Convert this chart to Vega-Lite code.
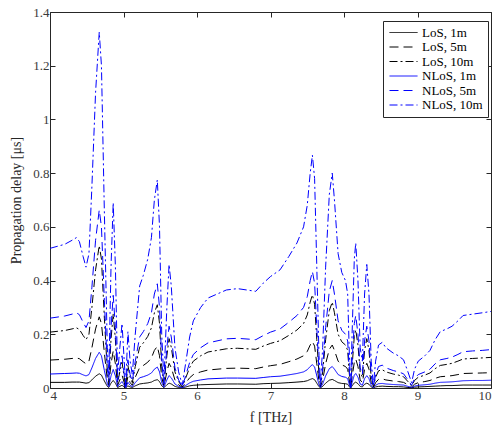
{
"$schema":"https://vega.github.io/schema/vega-lite/v6.json",
"width":441,"height":376,
"autosize":"none",
"padding":{"left":50,"top":12,"right":7,"bottom":38},
"background":"white",
"config":{"view":{"stroke":"#262626","strokeWidth":1},"font":"Liberation Serif",
"axis":{"labelFont":"Liberation Serif","titleFont":"Liberation Serif","labelFontSize":13,"titleFontSize":14,"labelColor":"#3a3a3a","titleColor":"#262626","titleFontWeight":"normal","domainColor":"#262626","tickColor":"#262626","grid":false,"tickSize":-5}},
"data":{"values":[
{"s":"L1","f":4,"v":0.021},{"s":"L1","f":4.2,"v":0.021},{"s":"L1","f":4.3,"v":0.022},{"s":"L1","f":4.36,"v":0.022},{"s":"L1","f":4.4,"v":0.022},{"s":"L1","f":4.45,"v":0.02},{"s":"L1","f":4.49,"v":0.018},{"s":"L1","f":4.53,"v":0.02},{"s":"L1","f":4.57,"v":0.03},{"s":"L1","f":4.62,"v":0.044},{"s":"L1","f":4.67,"v":0.053},{"s":"L1","f":4.7,"v":0.048},{"s":"L1","f":4.74,"v":0.026},{"s":"L1","f":4.78,"v":0.006},{"s":"L1","f":4.8,"v":0.002},{"s":"L1","f":4.83,"v":0.018},{"s":"L1","f":4.86,"v":0.028},{"s":"L1","f":4.89,"v":0.018},{"s":"L1","f":4.92,"v":0.002},{"s":"L1","f":4.95,"v":0.006},{"s":"L1","f":4.98,"v":0.01},{"s":"L1","f":5.01,"v":0.004},{"s":"L1","f":5.03,"v":0.0004},{"s":"L1","f":5.06,"v":0.008},{"s":"L1","f":5.09,"v":0.004},{"s":"L1","f":5.12,"v":0.002},{"s":"L1","f":5.16,"v":0.008},{"s":"L1","f":5.22,"v":0.015},{"s":"L1","f":5.27,"v":0.017},{"s":"L1","f":5.33,"v":0.019},{"s":"L1","f":5.38,"v":0.022},{"s":"L1","f":5.42,"v":0.028},{"s":"L1","f":5.46,"v":0.031},{"s":"L1","f":5.49,"v":0.024},{"s":"L1","f":5.52,"v":0.008},{"s":"L1","f":5.55,"v":0.001},{"s":"L1","f":5.59,"v":0.012},{"s":"L1","f":5.62,"v":0.018},{"s":"L1","f":5.65,"v":0.015},{"s":"L1","f":5.7,"v":0.006},{"s":"L1","f":5.75,"v":0.002},{"s":"L1","f":5.8,"v":0.0004},{"s":"L1","f":5.85,"v":0.004},{"s":"L1","f":5.9,"v":0.008},{"s":"L1","f":5.95,"v":0.01},{"s":"L1","f":6.05,"v":0.012},{"s":"L1","f":6.15,"v":0.013},{"s":"L1","f":6.4,"v":0.015},{"s":"L1","f":6.55,"v":0.015},{"s":"L1","f":6.8,"v":0.014},{"s":"L1","f":6.9,"v":0.016},{"s":"L1","f":7,"v":0.017},{"s":"L1","f":7.13,"v":0.018},{"s":"L1","f":7.25,"v":0.02},{"s":"L1","f":7.36,"v":0.022},{"s":"L1","f":7.45,"v":0.024},{"s":"L1","f":7.5,"v":0.027},{"s":"L1","f":7.54,"v":0.032},{"s":"L1","f":7.57,"v":0.035},{"s":"L1","f":7.6,"v":0.031},{"s":"L1","f":7.63,"v":0.018},{"s":"L1","f":7.66,"v":0.005},{"s":"L1","f":7.68,"v":0.001},{"s":"L1","f":7.71,"v":0.006},{"s":"L1","f":7.75,"v":0.018},{"s":"L1","f":7.8,"v":0.029},{"s":"L1","f":7.84,"v":0.032},{"s":"L1","f":7.87,"v":0.028},{"s":"L1","f":7.92,"v":0.02},{"s":"L1","f":7.97,"v":0.017},{"s":"L1","f":8.02,"v":0.016},{"s":"L1","f":8.05,"v":0.014},{"s":"L1","f":8.07,"v":0.006},{"s":"L1","f":8.09,"v":0},{"s":"L1","f":8.11,"v":0.008},{"s":"L1","f":8.14,"v":0.019},{"s":"L1","f":8.16,"v":0.022},{"s":"L1","f":8.19,"v":0.016},{"s":"L1","f":8.22,"v":0.006},{"s":"L1","f":8.25,"v":0.004},{"s":"L1","f":8.28,"v":0.014},{"s":"L1","f":8.31,"v":0.018},{"s":"L1","f":8.34,"v":0.014},{"s":"L1","f":8.37,"v":0.004},{"s":"L1","f":8.4,"v":0.0004},{"s":"L1","f":8.43,"v":0.004},{"s":"L1","f":8.47,"v":0.006},{"s":"L1","f":8.52,"v":0.007},{"s":"L1","f":8.57,"v":0.006},{"s":"L1","f":8.67,"v":0.005},{"s":"L1","f":8.74,"v":0.005},{"s":"L1","f":8.81,"v":0.004},{"s":"L1","f":8.87,"v":0.002},{"s":"L1","f":8.92,"v":0.001},{"s":"L1","f":8.96,"v":0.003},{"s":"L1","f":9.01,"v":0.004},{"s":"L1","f":9.1,"v":0.005},{"s":"L1","f":9.17,"v":0.006},{"s":"L1","f":9.24,"v":0.007},{"s":"L1","f":9.31,"v":0.008},{"s":"L1","f":9.4,"v":0.009},{"s":"L1","f":9.47,"v":0.009},{"s":"L1","f":9.55,"v":0.01},{"s":"L1","f":9.62,"v":0.011},{"s":"L1","f":9.75,"v":0.011},{"s":"L1","f":9.88,"v":0.011},{"s":"L1","f":10,"v":0.011},
{"s":"L5","f":4,"v":0.104},{"s":"L5","f":4.2,"v":0.107},{"s":"L5","f":4.3,"v":0.11},{"s":"L5","f":4.36,"v":0.112},{"s":"L5","f":4.4,"v":0.109},{"s":"L5","f":4.45,"v":0.098},{"s":"L5","f":4.49,"v":0.09},{"s":"L5","f":4.53,"v":0.1},{"s":"L5","f":4.57,"v":0.15},{"s":"L5","f":4.62,"v":0.22},{"s":"L5","f":4.67,"v":0.265},{"s":"L5","f":4.7,"v":0.24},{"s":"L5","f":4.74,"v":0.13},{"s":"L5","f":4.78,"v":0.03},{"s":"L5","f":4.8,"v":0.01},{"s":"L5","f":4.83,"v":0.09},{"s":"L5","f":4.86,"v":0.138},{"s":"L5","f":4.89,"v":0.09},{"s":"L5","f":4.92,"v":0.01},{"s":"L5","f":4.95,"v":0.03},{"s":"L5","f":4.98,"v":0.048},{"s":"L5","f":5.01,"v":0.02},{"s":"L5","f":5.03,"v":0.002},{"s":"L5","f":5.06,"v":0.042},{"s":"L5","f":5.09,"v":0.02},{"s":"L5","f":5.12,"v":0.01},{"s":"L5","f":5.16,"v":0.04},{"s":"L5","f":5.22,"v":0.076},{"s":"L5","f":5.27,"v":0.084},{"s":"L5","f":5.33,"v":0.096},{"s":"L5","f":5.38,"v":0.112},{"s":"L5","f":5.42,"v":0.14},{"s":"L5","f":5.46,"v":0.155},{"s":"L5","f":5.49,"v":0.12},{"s":"L5","f":5.52,"v":0.04},{"s":"L5","f":5.55,"v":0.006},{"s":"L5","f":5.59,"v":0.06},{"s":"L5","f":5.62,"v":0.092},{"s":"L5","f":5.65,"v":0.076},{"s":"L5","f":5.7,"v":0.03},{"s":"L5","f":5.75,"v":0.012},{"s":"L5","f":5.8,"v":0.002},{"s":"L5","f":5.85,"v":0.02},{"s":"L5","f":5.9,"v":0.038},{"s":"L5","f":5.95,"v":0.05},{"s":"L5","f":6.05,"v":0.06},{"s":"L5","f":6.15,"v":0.067},{"s":"L5","f":6.4,"v":0.073},{"s":"L5","f":6.55,"v":0.074},{"s":"L5","f":6.8,"v":0.072},{"s":"L5","f":6.9,"v":0.078},{"s":"L5","f":7,"v":0.083},{"s":"L5","f":7.13,"v":0.088},{"s":"L5","f":7.25,"v":0.098},{"s":"L5","f":7.36,"v":0.108},{"s":"L5","f":7.45,"v":0.12},{"s":"L5","f":7.5,"v":0.136},{"s":"L5","f":7.54,"v":0.16},{"s":"L5","f":7.57,"v":0.173},{"s":"L5","f":7.6,"v":0.156},{"s":"L5","f":7.63,"v":0.09},{"s":"L5","f":7.66,"v":0.024},{"s":"L5","f":7.68,"v":0.004},{"s":"L5","f":7.71,"v":0.03},{"s":"L5","f":7.75,"v":0.09},{"s":"L5","f":7.8,"v":0.144},{"s":"L5","f":7.84,"v":0.16},{"s":"L5","f":7.87,"v":0.14},{"s":"L5","f":7.92,"v":0.1},{"s":"L5","f":7.97,"v":0.086},{"s":"L5","f":8.02,"v":0.08},{"s":"L5","f":8.05,"v":0.07},{"s":"L5","f":8.07,"v":0.03},{"s":"L5","f":8.09,"v":0},{"s":"L5","f":8.11,"v":0.04},{"s":"L5","f":8.14,"v":0.096},{"s":"L5","f":8.16,"v":0.108},{"s":"L5","f":8.19,"v":0.08},{"s":"L5","f":8.22,"v":0.03},{"s":"L5","f":8.25,"v":0.02},{"s":"L5","f":8.28,"v":0.07},{"s":"L5","f":8.31,"v":0.092},{"s":"L5","f":8.34,"v":0.07},{"s":"L5","f":8.37,"v":0.02},{"s":"L5","f":8.4,"v":0.002},{"s":"L5","f":8.43,"v":0.02},{"s":"L5","f":8.47,"v":0.032},{"s":"L5","f":8.52,"v":0.034},{"s":"L5","f":8.57,"v":0.03},{"s":"L5","f":8.67,"v":0.026},{"s":"L5","f":8.74,"v":0.024},{"s":"L5","f":8.81,"v":0.021},{"s":"L5","f":8.87,"v":0.012},{"s":"L5","f":8.92,"v":0.004},{"s":"L5","f":8.96,"v":0.014},{"s":"L5","f":9.01,"v":0.02},{"s":"L5","f":9.1,"v":0.024},{"s":"L5","f":9.17,"v":0.028},{"s":"L5","f":9.24,"v":0.036},{"s":"L5","f":9.31,"v":0.042},{"s":"L5","f":9.4,"v":0.044},{"s":"L5","f":9.47,"v":0.046},{"s":"L5","f":9.55,"v":0.05},{"s":"L5","f":9.62,"v":0.054},{"s":"L5","f":9.75,"v":0.055},{"s":"L5","f":9.88,"v":0.056},{"s":"L5","f":10,"v":0.057},
{"s":"L10","f":4,"v":0.208},{"s":"L10","f":4.2,"v":0.214},{"s":"L10","f":4.3,"v":0.22},{"s":"L10","f":4.36,"v":0.224},{"s":"L10","f":4.4,"v":0.218},{"s":"L10","f":4.45,"v":0.196},{"s":"L10","f":4.49,"v":0.18},{"s":"L10","f":4.53,"v":0.2},{"s":"L10","f":4.57,"v":0.3},{"s":"L10","f":4.62,"v":0.44},{"s":"L10","f":4.67,"v":0.53},{"s":"L10","f":4.7,"v":0.48},{"s":"L10","f":4.74,"v":0.26},{"s":"L10","f":4.78,"v":0.06},{"s":"L10","f":4.8,"v":0.02},{"s":"L10","f":4.83,"v":0.18},{"s":"L10","f":4.86,"v":0.276},{"s":"L10","f":4.89,"v":0.18},{"s":"L10","f":4.92,"v":0.02},{"s":"L10","f":4.95,"v":0.06},{"s":"L10","f":4.98,"v":0.096},{"s":"L10","f":5.01,"v":0.04},{"s":"L10","f":5.03,"v":0.004},{"s":"L10","f":5.06,"v":0.084},{"s":"L10","f":5.09,"v":0.04},{"s":"L10","f":5.12,"v":0.02},{"s":"L10","f":5.16,"v":0.08},{"s":"L10","f":5.22,"v":0.152},{"s":"L10","f":5.27,"v":0.168},{"s":"L10","f":5.33,"v":0.192},{"s":"L10","f":5.38,"v":0.224},{"s":"L10","f":5.42,"v":0.28},{"s":"L10","f":5.46,"v":0.31},{"s":"L10","f":5.49,"v":0.24},{"s":"L10","f":5.52,"v":0.08},{"s":"L10","f":5.55,"v":0.012},{"s":"L10","f":5.59,"v":0.12},{"s":"L10","f":5.62,"v":0.184},{"s":"L10","f":5.65,"v":0.152},{"s":"L10","f":5.7,"v":0.06},{"s":"L10","f":5.75,"v":0.024},{"s":"L10","f":5.8,"v":0.004},{"s":"L10","f":5.85,"v":0.04},{"s":"L10","f":5.9,"v":0.076},{"s":"L10","f":5.95,"v":0.1},{"s":"L10","f":6.05,"v":0.12},{"s":"L10","f":6.15,"v":0.134},{"s":"L10","f":6.4,"v":0.146},{"s":"L10","f":6.55,"v":0.148},{"s":"L10","f":6.8,"v":0.144},{"s":"L10","f":6.9,"v":0.156},{"s":"L10","f":7,"v":0.166},{"s":"L10","f":7.13,"v":0.176},{"s":"L10","f":7.25,"v":0.196},{"s":"L10","f":7.36,"v":0.216},{"s":"L10","f":7.45,"v":0.24},{"s":"L10","f":7.5,"v":0.272},{"s":"L10","f":7.54,"v":0.32},{"s":"L10","f":7.57,"v":0.347},{"s":"L10","f":7.6,"v":0.312},{"s":"L10","f":7.63,"v":0.18},{"s":"L10","f":7.66,"v":0.048},{"s":"L10","f":7.68,"v":0.008},{"s":"L10","f":7.71,"v":0.06},{"s":"L10","f":7.75,"v":0.18},{"s":"L10","f":7.8,"v":0.288},{"s":"L10","f":7.84,"v":0.32},{"s":"L10","f":7.87,"v":0.28},{"s":"L10","f":7.92,"v":0.2},{"s":"L10","f":7.97,"v":0.172},{"s":"L10","f":8.02,"v":0.16},{"s":"L10","f":8.05,"v":0.14},{"s":"L10","f":8.07,"v":0.06},{"s":"L10","f":8.09,"v":0},{"s":"L10","f":8.11,"v":0.08},{"s":"L10","f":8.14,"v":0.192},{"s":"L10","f":8.16,"v":0.216},{"s":"L10","f":8.19,"v":0.16},{"s":"L10","f":8.22,"v":0.06},{"s":"L10","f":8.25,"v":0.04},{"s":"L10","f":8.28,"v":0.14},{"s":"L10","f":8.31,"v":0.184},{"s":"L10","f":8.34,"v":0.14},{"s":"L10","f":8.37,"v":0.04},{"s":"L10","f":8.4,"v":0.004},{"s":"L10","f":8.43,"v":0.04},{"s":"L10","f":8.47,"v":0.064},{"s":"L10","f":8.52,"v":0.068},{"s":"L10","f":8.57,"v":0.06},{"s":"L10","f":8.67,"v":0.052},{"s":"L10","f":8.74,"v":0.048},{"s":"L10","f":8.81,"v":0.042},{"s":"L10","f":8.87,"v":0.024},{"s":"L10","f":8.92,"v":0.008},{"s":"L10","f":8.96,"v":0.028},{"s":"L10","f":9.01,"v":0.04},{"s":"L10","f":9.1,"v":0.048},{"s":"L10","f":9.17,"v":0.056},{"s":"L10","f":9.24,"v":0.072},{"s":"L10","f":9.31,"v":0.084},{"s":"L10","f":9.4,"v":0.088},{"s":"L10","f":9.47,"v":0.092},{"s":"L10","f":9.55,"v":0.1},{"s":"L10","f":9.62,"v":0.108},{"s":"L10","f":9.75,"v":0.11},{"s":"L10","f":9.88,"v":0.112},{"s":"L10","f":10,"v":0.114},
{"s":"N1","f":4,"v":0.052},{"s":"N1","f":4.2,"v":0.054},{"s":"N1","f":4.3,"v":0.055},{"s":"N1","f":4.36,"v":0.056},{"s":"N1","f":4.4,"v":0.055},{"s":"N1","f":4.45,"v":0.049},{"s":"N1","f":4.49,"v":0.045},{"s":"N1","f":4.53,"v":0.05},{"s":"N1","f":4.57,"v":0.075},{"s":"N1","f":4.62,"v":0.11},{"s":"N1","f":4.67,"v":0.133},{"s":"N1","f":4.7,"v":0.12},{"s":"N1","f":4.74,"v":0.065},{"s":"N1","f":4.78,"v":0.015},{"s":"N1","f":4.8,"v":0.005},{"s":"N1","f":4.83,"v":0.045},{"s":"N1","f":4.86,"v":0.069},{"s":"N1","f":4.89,"v":0.045},{"s":"N1","f":4.92,"v":0.005},{"s":"N1","f":4.95,"v":0.015},{"s":"N1","f":4.98,"v":0.024},{"s":"N1","f":5.01,"v":0.01},{"s":"N1","f":5.03,"v":0.001},{"s":"N1","f":5.06,"v":0.021},{"s":"N1","f":5.09,"v":0.01},{"s":"N1","f":5.12,"v":0.005},{"s":"N1","f":5.16,"v":0.02},{"s":"N1","f":5.22,"v":0.038},{"s":"N1","f":5.27,"v":0.042},{"s":"N1","f":5.33,"v":0.048},{"s":"N1","f":5.38,"v":0.056},{"s":"N1","f":5.42,"v":0.07},{"s":"N1","f":5.46,"v":0.078},{"s":"N1","f":5.49,"v":0.06},{"s":"N1","f":5.52,"v":0.02},{"s":"N1","f":5.55,"v":0.003},{"s":"N1","f":5.59,"v":0.03},{"s":"N1","f":5.62,"v":0.046},{"s":"N1","f":5.65,"v":0.038},{"s":"N1","f":5.7,"v":0.015},{"s":"N1","f":5.75,"v":0.006},{"s":"N1","f":5.8,"v":0.001},{"s":"N1","f":5.85,"v":0.01},{"s":"N1","f":5.9,"v":0.019},{"s":"N1","f":5.95,"v":0.025},{"s":"N1","f":6.05,"v":0.03},{"s":"N1","f":6.15,"v":0.034},{"s":"N1","f":6.4,"v":0.037},{"s":"N1","f":6.55,"v":0.037},{"s":"N1","f":6.8,"v":0.036},{"s":"N1","f":6.9,"v":0.039},{"s":"N1","f":7,"v":0.042},{"s":"N1","f":7.13,"v":0.044},{"s":"N1","f":7.25,"v":0.049},{"s":"N1","f":7.36,"v":0.054},{"s":"N1","f":7.45,"v":0.06},{"s":"N1","f":7.5,"v":0.068},{"s":"N1","f":7.54,"v":0.08},{"s":"N1","f":7.57,"v":0.087},{"s":"N1","f":7.6,"v":0.078},{"s":"N1","f":7.63,"v":0.045},{"s":"N1","f":7.66,"v":0.012},{"s":"N1","f":7.68,"v":0.002},{"s":"N1","f":7.71,"v":0.015},{"s":"N1","f":7.75,"v":0.045},{"s":"N1","f":7.8,"v":0.072},{"s":"N1","f":7.84,"v":0.08},{"s":"N1","f":7.87,"v":0.07},{"s":"N1","f":7.92,"v":0.05},{"s":"N1","f":7.97,"v":0.043},{"s":"N1","f":8.02,"v":0.04},{"s":"N1","f":8.05,"v":0.035},{"s":"N1","f":8.07,"v":0.015},{"s":"N1","f":8.09,"v":0},{"s":"N1","f":8.11,"v":0.02},{"s":"N1","f":8.14,"v":0.048},{"s":"N1","f":8.16,"v":0.054},{"s":"N1","f":8.19,"v":0.04},{"s":"N1","f":8.22,"v":0.015},{"s":"N1","f":8.25,"v":0.01},{"s":"N1","f":8.28,"v":0.035},{"s":"N1","f":8.31,"v":0.046},{"s":"N1","f":8.34,"v":0.035},{"s":"N1","f":8.37,"v":0.01},{"s":"N1","f":8.4,"v":0.001},{"s":"N1","f":8.43,"v":0.01},{"s":"N1","f":8.47,"v":0.016},{"s":"N1","f":8.52,"v":0.017},{"s":"N1","f":8.57,"v":0.015},{"s":"N1","f":8.67,"v":0.013},{"s":"N1","f":8.74,"v":0.012},{"s":"N1","f":8.81,"v":0.011},{"s":"N1","f":8.87,"v":0.006},{"s":"N1","f":8.92,"v":0.002},{"s":"N1","f":8.96,"v":0.007},{"s":"N1","f":9.01,"v":0.01},{"s":"N1","f":9.1,"v":0.012},{"s":"N1","f":9.17,"v":0.014},{"s":"N1","f":9.24,"v":0.018},{"s":"N1","f":9.31,"v":0.021},{"s":"N1","f":9.4,"v":0.022},{"s":"N1","f":9.47,"v":0.023},{"s":"N1","f":9.55,"v":0.025},{"s":"N1","f":9.62,"v":0.027},{"s":"N1","f":9.75,"v":0.028},{"s":"N1","f":9.88,"v":0.028},{"s":"N1","f":10,"v":0.029},
{"s":"N5","f":4,"v":0.26},{"s":"N5","f":4.2,"v":0.268},{"s":"N5","f":4.3,"v":0.275},{"s":"N5","f":4.36,"v":0.28},{"s":"N5","f":4.4,"v":0.273},{"s":"N5","f":4.45,"v":0.245},{"s":"N5","f":4.49,"v":0.225},{"s":"N5","f":4.53,"v":0.25},{"s":"N5","f":4.57,"v":0.375},{"s":"N5","f":4.62,"v":0.55},{"s":"N5","f":4.67,"v":0.663},{"s":"N5","f":4.7,"v":0.6},{"s":"N5","f":4.74,"v":0.325},{"s":"N5","f":4.78,"v":0.075},{"s":"N5","f":4.8,"v":0.025},{"s":"N5","f":4.83,"v":0.225},{"s":"N5","f":4.86,"v":0.345},{"s":"N5","f":4.89,"v":0.225},{"s":"N5","f":4.92,"v":0.025},{"s":"N5","f":4.95,"v":0.075},{"s":"N5","f":4.98,"v":0.12},{"s":"N5","f":5.01,"v":0.05},{"s":"N5","f":5.03,"v":0.005},{"s":"N5","f":5.06,"v":0.105},{"s":"N5","f":5.09,"v":0.05},{"s":"N5","f":5.12,"v":0.025},{"s":"N5","f":5.16,"v":0.1},{"s":"N5","f":5.22,"v":0.19},{"s":"N5","f":5.27,"v":0.21},{"s":"N5","f":5.33,"v":0.24},{"s":"N5","f":5.38,"v":0.28},{"s":"N5","f":5.42,"v":0.35},{"s":"N5","f":5.46,"v":0.388},{"s":"N5","f":5.49,"v":0.3},{"s":"N5","f":5.52,"v":0.1},{"s":"N5","f":5.55,"v":0.015},{"s":"N5","f":5.59,"v":0.15},{"s":"N5","f":5.62,"v":0.23},{"s":"N5","f":5.65,"v":0.19},{"s":"N5","f":5.7,"v":0.075},{"s":"N5","f":5.75,"v":0.03},{"s":"N5","f":5.8,"v":0.005},{"s":"N5","f":5.85,"v":0.05},{"s":"N5","f":5.9,"v":0.095},{"s":"N5","f":5.95,"v":0.125},{"s":"N5","f":6.05,"v":0.15},{"s":"N5","f":6.15,"v":0.168},{"s":"N5","f":6.4,"v":0.183},{"s":"N5","f":6.55,"v":0.185},{"s":"N5","f":6.8,"v":0.18},{"s":"N5","f":6.9,"v":0.195},{"s":"N5","f":7,"v":0.208},{"s":"N5","f":7.13,"v":0.22},{"s":"N5","f":7.25,"v":0.245},{"s":"N5","f":7.36,"v":0.27},{"s":"N5","f":7.45,"v":0.3},{"s":"N5","f":7.5,"v":0.34},{"s":"N5","f":7.54,"v":0.4},{"s":"N5","f":7.57,"v":0.434},{"s":"N5","f":7.6,"v":0.39},{"s":"N5","f":7.63,"v":0.225},{"s":"N5","f":7.66,"v":0.06},{"s":"N5","f":7.68,"v":0.01},{"s":"N5","f":7.71,"v":0.075},{"s":"N5","f":7.75,"v":0.225},{"s":"N5","f":7.8,"v":0.36},{"s":"N5","f":7.84,"v":0.4},{"s":"N5","f":7.87,"v":0.35},{"s":"N5","f":7.92,"v":0.25},{"s":"N5","f":7.97,"v":0.215},{"s":"N5","f":8.02,"v":0.2},{"s":"N5","f":8.05,"v":0.175},{"s":"N5","f":8.07,"v":0.075},{"s":"N5","f":8.09,"v":0},{"s":"N5","f":8.11,"v":0.1},{"s":"N5","f":8.14,"v":0.24},{"s":"N5","f":8.16,"v":0.27},{"s":"N5","f":8.19,"v":0.2},{"s":"N5","f":8.22,"v":0.075},{"s":"N5","f":8.25,"v":0.05},{"s":"N5","f":8.28,"v":0.175},{"s":"N5","f":8.31,"v":0.23},{"s":"N5","f":8.34,"v":0.175},{"s":"N5","f":8.37,"v":0.05},{"s":"N5","f":8.4,"v":0.005},{"s":"N5","f":8.43,"v":0.05},{"s":"N5","f":8.47,"v":0.08},{"s":"N5","f":8.52,"v":0.085},{"s":"N5","f":8.57,"v":0.075},{"s":"N5","f":8.67,"v":0.065},{"s":"N5","f":8.74,"v":0.06},{"s":"N5","f":8.81,"v":0.053},{"s":"N5","f":8.87,"v":0.03},{"s":"N5","f":8.92,"v":0.01},{"s":"N5","f":8.96,"v":0.035},{"s":"N5","f":9.01,"v":0.05},{"s":"N5","f":9.1,"v":0.06},{"s":"N5","f":9.17,"v":0.07},{"s":"N5","f":9.24,"v":0.09},{"s":"N5","f":9.31,"v":0.105},{"s":"N5","f":9.4,"v":0.11},{"s":"N5","f":9.47,"v":0.115},{"s":"N5","f":9.55,"v":0.125},{"s":"N5","f":9.62,"v":0.135},{"s":"N5","f":9.75,"v":0.138},{"s":"N5","f":9.88,"v":0.14},{"s":"N5","f":10,"v":0.143},
{"s":"N10","f":4,"v":0.52},{"s":"N10","f":4.2,"v":0.535},{"s":"N10","f":4.3,"v":0.55},{"s":"N10","f":4.36,"v":0.56},{"s":"N10","f":4.4,"v":0.545},{"s":"N10","f":4.45,"v":0.49},{"s":"N10","f":4.49,"v":0.45},{"s":"N10","f":4.53,"v":0.5},{"s":"N10","f":4.57,"v":0.75},{"s":"N10","f":4.62,"v":1.1},{"s":"N10","f":4.67,"v":1.325},{"s":"N10","f":4.7,"v":1.2},{"s":"N10","f":4.74,"v":0.65},{"s":"N10","f":4.78,"v":0.15},{"s":"N10","f":4.8,"v":0.05},{"s":"N10","f":4.83,"v":0.45},{"s":"N10","f":4.86,"v":0.69},{"s":"N10","f":4.89,"v":0.45},{"s":"N10","f":4.92,"v":0.05},{"s":"N10","f":4.95,"v":0.15},{"s":"N10","f":4.98,"v":0.24},{"s":"N10","f":5.01,"v":0.1},{"s":"N10","f":5.03,"v":0.01},{"s":"N10","f":5.06,"v":0.21},{"s":"N10","f":5.09,"v":0.1},{"s":"N10","f":5.12,"v":0.05},{"s":"N10","f":5.16,"v":0.2},{"s":"N10","f":5.22,"v":0.38},{"s":"N10","f":5.27,"v":0.42},{"s":"N10","f":5.33,"v":0.48},{"s":"N10","f":5.38,"v":0.56},{"s":"N10","f":5.42,"v":0.7},{"s":"N10","f":5.46,"v":0.775},{"s":"N10","f":5.49,"v":0.6},{"s":"N10","f":5.52,"v":0.2},{"s":"N10","f":5.55,"v":0.03},{"s":"N10","f":5.59,"v":0.3},{"s":"N10","f":5.62,"v":0.46},{"s":"N10","f":5.65,"v":0.38},{"s":"N10","f":5.7,"v":0.15},{"s":"N10","f":5.75,"v":0.06},{"s":"N10","f":5.8,"v":0.01},{"s":"N10","f":5.85,"v":0.1},{"s":"N10","f":5.9,"v":0.19},{"s":"N10","f":5.95,"v":0.25},{"s":"N10","f":6.05,"v":0.3},{"s":"N10","f":6.15,"v":0.335},{"s":"N10","f":6.4,"v":0.365},{"s":"N10","f":6.55,"v":0.37},{"s":"N10","f":6.8,"v":0.36},{"s":"N10","f":6.9,"v":0.39},{"s":"N10","f":7,"v":0.415},{"s":"N10","f":7.13,"v":0.44},{"s":"N10","f":7.25,"v":0.49},{"s":"N10","f":7.36,"v":0.54},{"s":"N10","f":7.45,"v":0.6},{"s":"N10","f":7.5,"v":0.68},{"s":"N10","f":7.54,"v":0.8},{"s":"N10","f":7.57,"v":0.867},{"s":"N10","f":7.6,"v":0.78},{"s":"N10","f":7.63,"v":0.45},{"s":"N10","f":7.66,"v":0.12},{"s":"N10","f":7.68,"v":0.02},{"s":"N10","f":7.71,"v":0.15},{"s":"N10","f":7.75,"v":0.45},{"s":"N10","f":7.8,"v":0.72},{"s":"N10","f":7.84,"v":0.8},{"s":"N10","f":7.87,"v":0.7},{"s":"N10","f":7.92,"v":0.5},{"s":"N10","f":7.97,"v":0.43},{"s":"N10","f":8.02,"v":0.4},{"s":"N10","f":8.05,"v":0.35},{"s":"N10","f":8.07,"v":0.15},{"s":"N10","f":8.09,"v":0},{"s":"N10","f":8.11,"v":0.2},{"s":"N10","f":8.14,"v":0.48},{"s":"N10","f":8.16,"v":0.54},{"s":"N10","f":8.19,"v":0.4},{"s":"N10","f":8.22,"v":0.15},{"s":"N10","f":8.25,"v":0.1},{"s":"N10","f":8.28,"v":0.35},{"s":"N10","f":8.31,"v":0.46},{"s":"N10","f":8.34,"v":0.35},{"s":"N10","f":8.37,"v":0.1},{"s":"N10","f":8.4,"v":0.01},{"s":"N10","f":8.43,"v":0.1},{"s":"N10","f":8.47,"v":0.16},{"s":"N10","f":8.52,"v":0.17},{"s":"N10","f":8.57,"v":0.15},{"s":"N10","f":8.67,"v":0.13},{"s":"N10","f":8.74,"v":0.12},{"s":"N10","f":8.81,"v":0.105},{"s":"N10","f":8.87,"v":0.06},{"s":"N10","f":8.92,"v":0.02},{"s":"N10","f":8.96,"v":0.07},{"s":"N10","f":9.01,"v":0.1},{"s":"N10","f":9.1,"v":0.12},{"s":"N10","f":9.17,"v":0.14},{"s":"N10","f":9.24,"v":0.18},{"s":"N10","f":9.31,"v":0.21},{"s":"N10","f":9.4,"v":0.22},{"s":"N10","f":9.47,"v":0.23},{"s":"N10","f":9.55,"v":0.25},{"s":"N10","f":9.62,"v":0.27},{"s":"N10","f":9.75,"v":0.275},{"s":"N10","f":9.88,"v":0.28},{"s":"N10","f":10,"v":0.285}
]},
"layer":[
{"mark":{"type":"line","strokeWidth":1,"clip":true},
"encoding":{
"x":{"field":"f","type":"quantitative","scale":{"domain":[4,10],"nice":false},"axis":{"orient":"bottom","values":[4,5,6,7,8,9,10],"labelPadding":6,"title":"f [THz]","titleY":33,"titleBaseline":"alphabetic","domain":false}},
"y":{"field":"v","type":"quantitative","scale":{"domain":[0,1.4],"nice":false},"axis":{"orient":"left","values":[0,0.2,0.4,0.6,0.8,1,1.2,1.4],"format":"~g","labelPadding":6,"title":"Propagation delay  [μs]","titleX":-34,"titleY":188,"titleAngle":-90,"titleAlign":"center","titleBaseline":"middle","domain":false}},
"color":{"field":"s","type":"nominal","scale":{"domain":["L1","L5","L10","N1","N5","N10"],"range":["#000000","#000000","#000000","#0000ff","#0000ff","#0000ff"]},
"legend":{"title":null,"orient":"none","legendX":333,"legendY":9,"strokeColor":"#262626","fillColor":"white","padding":5,"symbolType":"M-1,0H4.6","symbolSize":100,"symbolStrokeWidth":1,"labelFont":"Liberation Serif","labelFontSize":13,"labelColor":"#000000","rowPadding":0.5,"labelOffset":21,
"labelExpr":"datum.label=='L1'?'LoS, 1m':datum.label=='L5'?'LoS, 5m':datum.label=='L10'?'LoS, 10m':datum.label=='N1'?'NLoS, 1m':datum.label=='N5'?'NLoS, 5m':'NLoS, 10m'",
"encode":{"symbols":{"update":{"strokeDash":{"scale":"strokeDash","field":"value"}}}}}},
"strokeDash":{"field":"s","type":"nominal","scale":{"domain":["L1","L5","L10","N1","N5","N10"],"range":[[1,0],[9,5],[8,3,2,3],[1,0],[9,5],[8,3,2,3]]},"legend":null}
}},
{"mark":{"type":"line","strokeOpacity":0},
"encoding":{
"x":{"field":"f","type":"quantitative","axis":{"orient":"top","values":[4,5,6,7,8,9,10],"labels":false,"title":null,"domain":false}},
"y":{"field":"v","type":"quantitative","axis":{"orient":"right","values":[0,0.2,0.4,0.6,0.8,1,1.2,1.4],"labels":false,"title":null,"domain":false}}
}}
],
"resolve":{"axis":{"x":"independent","y":"independent"}}
}
